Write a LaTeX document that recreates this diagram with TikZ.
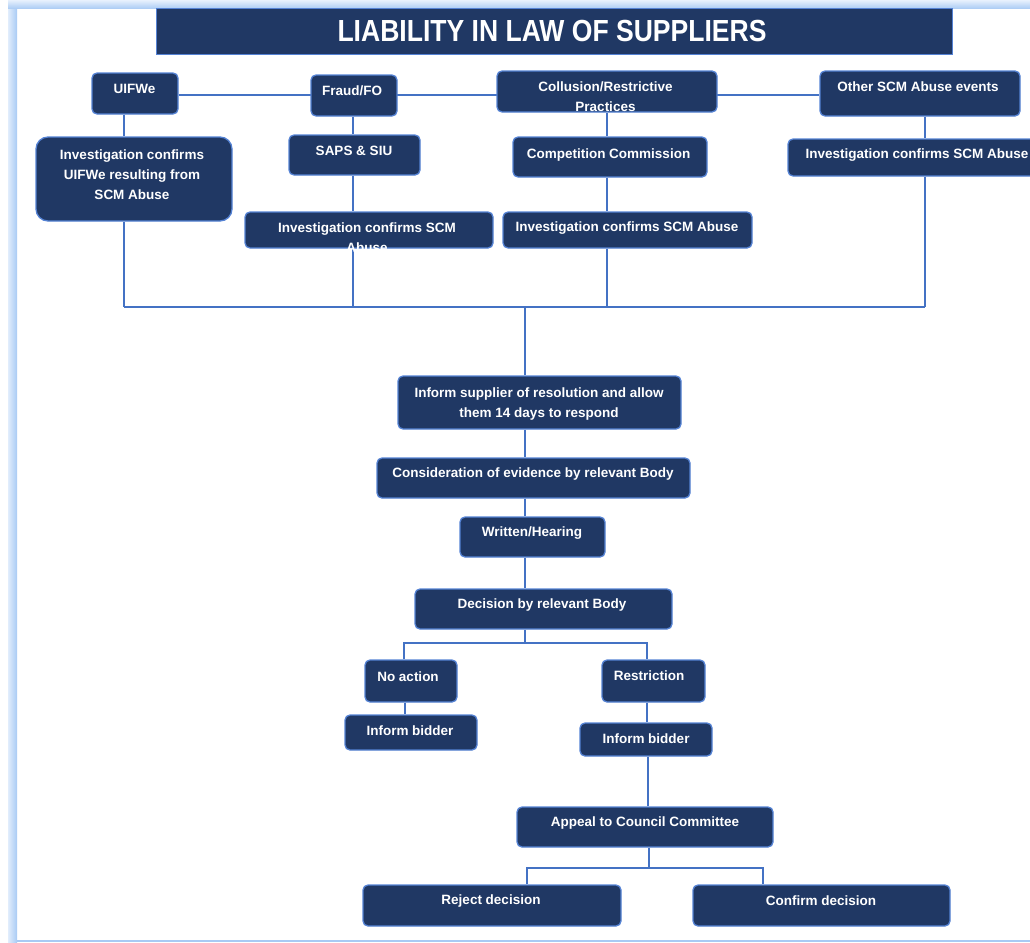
\documentclass[tikz,border=0pt]{standalone}
\usepackage{fontspec}
\setmainfont{Liberation Sans}
\newfontfamily\boxfont{Liberation Sans}
\newfontfamily\titlefont{Liberation Sans Bold}[FakeStretch=0.87]
\usetikzlibrary{backgrounds}
\definecolor{navy}{RGB}{32,56,100}
\definecolor{edgeblue}{RGB}{84,130,212}
\definecolor{lineblue}{RGB}{68,114,196}
\definecolor{frameblue}{RGB}{168,202,244}
\definecolor{framepale}{RGB}{225,237,252}
\begin{document}
\begin{tikzpicture}[x=1pt,y=-1pt,
  box/.style={draw=edgeblue, line width=1.3pt, fill=navy, rounded corners=5pt, inner sep=0pt},
  lbl/.style={text=white, font=\boxfont\bfseries\fontsize{13.5}{20}\selectfont, align=center, inner sep=0pt},
  link/.style={draw=lineblue, line width=1.6pt}]
\useasboundingbox (0,0) rectangle (1030,942);
\clip (0,0) rectangle (1030,942);
% frame
\shade[left color=framepale, right color=frameblue] (8,3) rectangle (17,942);
\shade[top color=framepale, bottom color=frameblue] (8,1) rectangle (1030,9);
\fill[frameblue] (17,939.5) rectangle (1030,942);
% title
\node[fill=navy, draw=edgeblue, line width=1pt, minimum width=796pt, minimum height=46pt, inner sep=0pt] (title) at (554,32) {};
\node[text=white, font=\titlefont\fontsize{30.5}{34}\selectfont, inner sep=0pt] (titletext) at (552,31) {LIABILITY IN LAW OF SUPPLIERS};
% row 1
\node[box, minimum width=86pt, minimum height=41pt] (uif) at (135,93.5) {};
\node[box, minimum width=86pt, minimum height=41pt] (fraud) at (354,95.5) {};
\node[box, minimum width=220pt, minimum height=41pt] (coll) at (607,91.5) {};
\node[box, minimum width=200pt, minimum height=45pt] (other) at (920,93.5) {};
% row 2
\node[box, rounded corners=12pt, minimum width=196pt, minimum height=84pt] (uifinv) at (134,179) {};
\node[box, minimum width=131pt, minimum height=40pt] (saps) at (354.5,155) {};
\node[box, minimum width=194pt, minimum height=40pt] (comp) at (610,157) {};
\node[box, minimum width=258pt, minimum height=37pt] (otherinv) at (917,157.5) {};
% row 3
\node[box, minimum width=248pt, minimum height=36pt] (fraudinv) at (369,230) {};
\node[box, minimum width=249pt, minimum height=36pt] (collinv) at (627.5,230) {};
% central column
\node[box, minimum width=283pt, minimum height=53pt] (inform) at (539.5,402.5) {};
\node[box, minimum width=313pt, minimum height=40pt] (consid) at (533.5,478) {};
\node[box, minimum width=145pt, minimum height=40pt] (written) at (532.5,537) {};
\node[box, minimum width=257pt, minimum height=40pt] (decision) at (543.5,609) {};
\node[box, minimum width=92pt, minimum height=42pt] (noact) at (411,681) {};
\node[box, minimum width=132pt, minimum height=35pt] (bidL) at (411,732.5) {};
\node[box, minimum width=103pt, minimum height=42pt] (restr) at (653.5,681) {};
\node[box, minimum width=132pt, minimum height=33pt] (bidR) at (646,739.5) {};
\node[box, minimum width=256pt, minimum height=40pt] (appeal) at (645,827) {};
\node[box, minimum width=258pt, minimum height=41pt] (reject) at (492,905.5) {};
\node[box, minimum width=257pt, minimum height=41pt] (confirm) at (821.5,905.5) {};
% texts
\node[lbl] at (134.5,89) {UIFWe};
\node[lbl] at (352,91) {Fraud/FO};
\node[lbl] at (605.5,97) {Collusion/Restrictive\\Practices};
\node[lbl] at (918,87) {Other SCM Abuse events};
\node[lbl] at (132,175) {Investigation confirms\\UIFWe resulting from\\SCM Abuse};
\node[lbl] at (354,151) {SAPS \& SIU};
\node[lbl] at (608.5,155) {Competition Commission};
\node[lbl] at (917,155) {Investigation confirms SCM Abuse};
\node[lbl] at (367,237.5) {Investigation confirms SCM\\Abuse};
\node[lbl] at (627,228) {Investigation confirms SCM Abuse};
\node[lbl] at (539,404) {Inform supplier of resolution and allow\\them 14 days to respond};
\node[lbl] at (533,474) {Consideration of evidence by relevant Body};
\node[lbl] at (532,533) {Written/Hearing};
\node[lbl] at (542,605) {Decision by relevant Body};
\node[lbl] at (408,677) {No action};
\node[lbl] at (410,731) {Inform bidder};
\node[lbl] at (649,676) {Restriction};
\node[lbl] at (646,739) {Inform bidder};
\node[lbl] at (645,823) {Appeal to Council Committee};
\node[lbl] at (491,901) {Reject decision};
\node[lbl] at (821,901) {Confirm decision};
% connector coordinates
\coordinate (xa) at (124,0);
\coordinate (xb) at (353,0);
\coordinate (xc) at (607,0);
\coordinate (xd) at (925,0);
\coordinate (xm) at (525,0);
\coordinate (xn) at (405,0);
\coordinate (xr) at (648,0);
\coordinate (yr) at (0,95);
\coordinate (ybus) at (0,307);
\coordinate (bl) at (124,307);
\coordinate (br) at (925,307);
\coordinate (bm) at (525,307);
\coordinate (d1) at (404,643);
\coordinate (d2) at (647,643);
\coordinate (dm) at (525,643);
\coordinate (a1) at (527,868);
\coordinate (a2) at (763,868);
\coordinate (am) at (649,868);
\begin{scope}[on background layer]
\draw[link] (uif.east |- yr) -- (other.west |- yr);
\draw[link] (uif.south -| xa) -- (uifinv.north -| xa);
\draw[link] (uifinv.south -| xa) -- (bl);
\draw[link] (fraud.south -| xb) -- (saps.north -| xb);
\draw[link] (saps.south -| xb) -- (fraudinv.north -| xb);
\draw[link] (fraudinv.south -| xb) -- (xb |- ybus);
\draw[link] (coll.south -| xc) -- (comp.north -| xc);
\draw[link] (comp.south -| xc) -- (collinv.north -| xc);
\draw[link] (collinv.south -| xc) -- (xc |- ybus);
\draw[link] (other.south -| xd) -- (otherinv.north -| xd);
\draw[link] (otherinv.south -| xd) -- (br);
\draw[link] (bl) -- (br);
\draw[link] (bm) -- (inform.north -| xm);
\draw[link] (inform.south -| xm) -- (consid.north -| xm);
\draw[link] (consid.south -| xm) -- (written.north -| xm);
\draw[link] (written.south -| xm) -- (decision.north -| xm);
\draw[link] (decision.south -| xm) -- (dm);
\draw[link] (noact.north -| d1) -- (d1) -- (d2) -- (restr.north -| d2);
\draw[link] (noact.south -| xn) -- (bidL.north -| xn);
\draw[link] (restr.south -| d2) -- (bidR.north -| d2);
\draw[link] (bidR.south -| xr) -- (appeal.north -| xr);
\draw[link] (appeal.south -| am) -- (am);
\draw[link] (reject.north -| a1) -- (a1) -- (a2) -- (confirm.north -| a2);
\end{scope}
\end{tikzpicture}
\end{document}
